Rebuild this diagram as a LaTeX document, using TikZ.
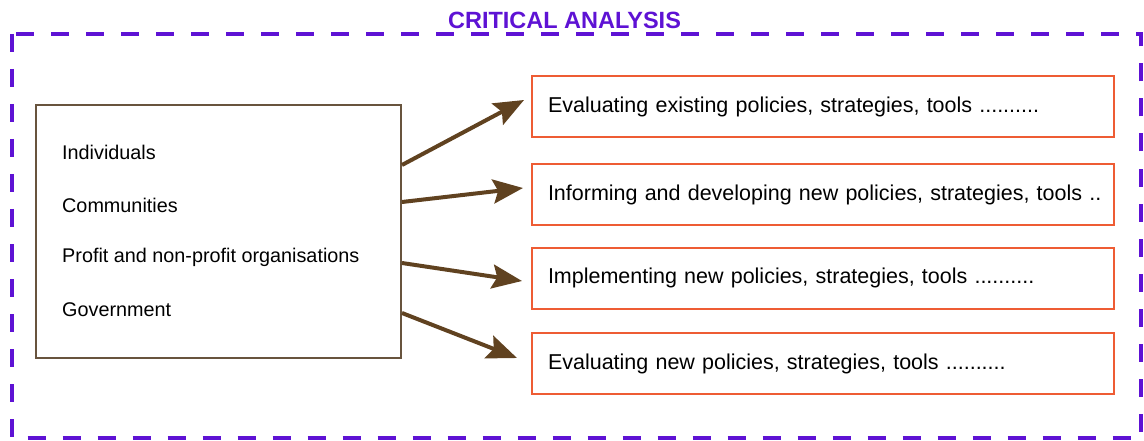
\documentclass[tikz,border=0pt]{standalone}
\usepackage{fontspec}
\setmainfont{Liberation Sans}
\usepackage{xcolor}
\usepackage{tikz}
\usetikzlibrary{arrows.meta}

\definecolor{framepurple}{RGB}{94,18,212}
\definecolor{taskorange}{RGB}{238,92,52}
\definecolor{flowbrown}{RGB}{96,66,32}
\definecolor{boxbrown}{RGB}{104,84,62}

\begin{document}
\begin{tikzpicture}[x=1pt, y=-1pt,
      frame/.style={draw=framepurple, line width=4pt, dash pattern=on 18pt off 17pt},
      actorbox/.style={draw=boxbrown, line width=2pt, minimum width=365pt,
          minimum height=253pt, inner sep=0pt},
      actor/.style={anchor=west, font=\fontsize{19.8}{22}\selectfont, inner sep=0pt},
      taskbox/.style={draw=taskorange, line width=2pt, anchor=west,
          text width=550pt, align=left, inner xsep=16pt,
          minimum height=61pt, font=\fontsize{21.5}{24}\selectfont},
      flow/.style={draw=flowbrown, fill=flowbrown, line width=4pt,
          -{Stealth[length=30pt, width=24pt, inset=5pt]}}]
    \useasboundingbox (0,0) rectangle (1144,441);
    % dashed frame and its title
    \draw[frame] (11.5,34) rectangle (1141,438);
    \node[font=\bfseries\fontsize{23.5}{26}\selectfont, text=framepurple]
      (title) at (564.5,20) {CRITICAL ANALYSIS};
    % who is analysed
    \node[actorbox] (actors) at (218.5,231.5) {};
    \node[actor] (individuals) at (62,152) {Individuals};
    \node[actor] (communities) at (62,205) {Communities};
    \node[actor] (organisations) at (62,257) {Profit and non-profit organisations};
    \node[actor] (government) at (62,310) {Government};
    % what the analysis is for
    \node[taskbox] (evalold) at (531,107) {\mbox{Evaluating existing policies, strategies, tools ..........}};
    \node[taskbox] (inform) at (531,194.5) {\mbox{Informing and developing new policies, strategies, tools ..}};
    \node[taskbox] (implement) at (531,278) {\mbox{Implementing new policies, strategies, tools ..........}};
    \node[taskbox] (evalnew) at (531,363.5) {\mbox{Evaluating new policies, strategies, tools ..........}};
    % arrow ends
    \coordinate (s1) at (actors.east |- 0,165);
    \coordinate (s2) at (actors.east |- 0,202);
    \coordinate (s3) at (actors.east |- 0,263);
    \coordinate (s4) at (actors.east |- 0,313);
    \coordinate (t1) at ([shift={(-7,-7)}]evalold.west);
    \coordinate (t2) at ([shift={(-8,-6.5)}]inform.west);
    \coordinate (t3) at ([shift={(-9,3)}]implement.west);
    \coordinate (t4) at ([shift={(-14,-5.5)}]evalnew.west);
    \path
    (s1) edge[flow] (t1)
    (s2) edge[flow] (t2)
    (s3) edge[flow] (t3)
    (s4) edge[flow] (t4);
  \end{tikzpicture}
\end{document}
